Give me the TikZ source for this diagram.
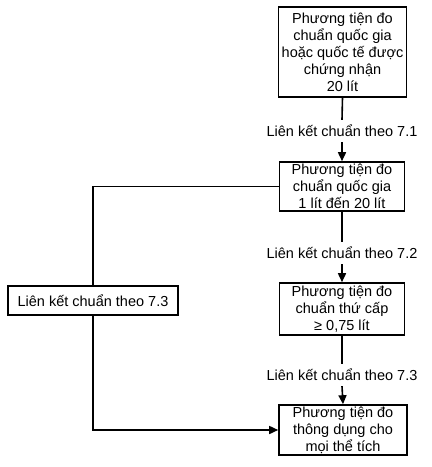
\documentclass[tikz,border=0pt]{standalone}
\usepackage{fontspec}
\setmainfont{Liberation Sans}
\usetikzlibrary{arrows.meta}
\begin{document}
\begin{tikzpicture}[x=1pt,y=-1pt,
  every node/.style={font=\fontsize{14.5}{17}\selectfont, inner sep=0pt},
  box/.style={draw, line width=1.6pt, align=center, minimum width=#1},
  lab/.style={align=center, inner xsep=0pt, inner ysep=5pt},
  conn/.style={line width=1.6pt},
  arr/.style={line width=1.6pt, -{Triangle[length=9pt,width=8pt]}}]
\useasboundingbox (0,0) rectangle (432,467);
\node[box=128pt, minimum height=90pt] (b1) at (342.5,52) {Phương tiện đo\\chuẩn quốc gia\\hoặc quốc tế được\\chứng nhận\\20 lít};
\node[lab] (l1) at (342,131) {Liên kết chuẩn theo 7.1};
\node[box=125pt, minimum height=49pt] (b2) at (342,186.5) {Phương tiện đo\\chuẩn quốc gia\\1 lít đến 20 lít};
\node[lab] (l2) at (342,253) {Liên kết chuẩn theo 7.2};
\node[box=125pt, minimum height=52pt] (b3) at (342,309) {Phương tiện đo\\chuẩn thứ cấp\\≥ 0,75 lít};
\node[lab] (l3) at (342,375) {Liên kết chuẩn theo 7.3};
\node[box=128pt, minimum height=50pt] (b4) at (343,430) {Phương tiện đo\\thông dụng cho\\mọi thể tích};
\node[box=170pt, minimum height=29pt] (lb) at (93,300.5) {Liên kết chuẩn theo 7.3};
\draw[conn] (b1.south) -- (l1.north);
\draw[arr] (l1.south) -- (b2.north);
\draw[conn] (b2.south) -- (l2.north);
\draw[arr] (l2.south) -- (b3.north);
\draw[conn] (b3.south) -- (l3.north);
\draw[arr] (l3.south) -- (b4.north);
\draw[conn] (b2.west) -| (lb.north);
\draw[arr] (lb.south) |- (b4.west);
\end{tikzpicture}
\end{document}
